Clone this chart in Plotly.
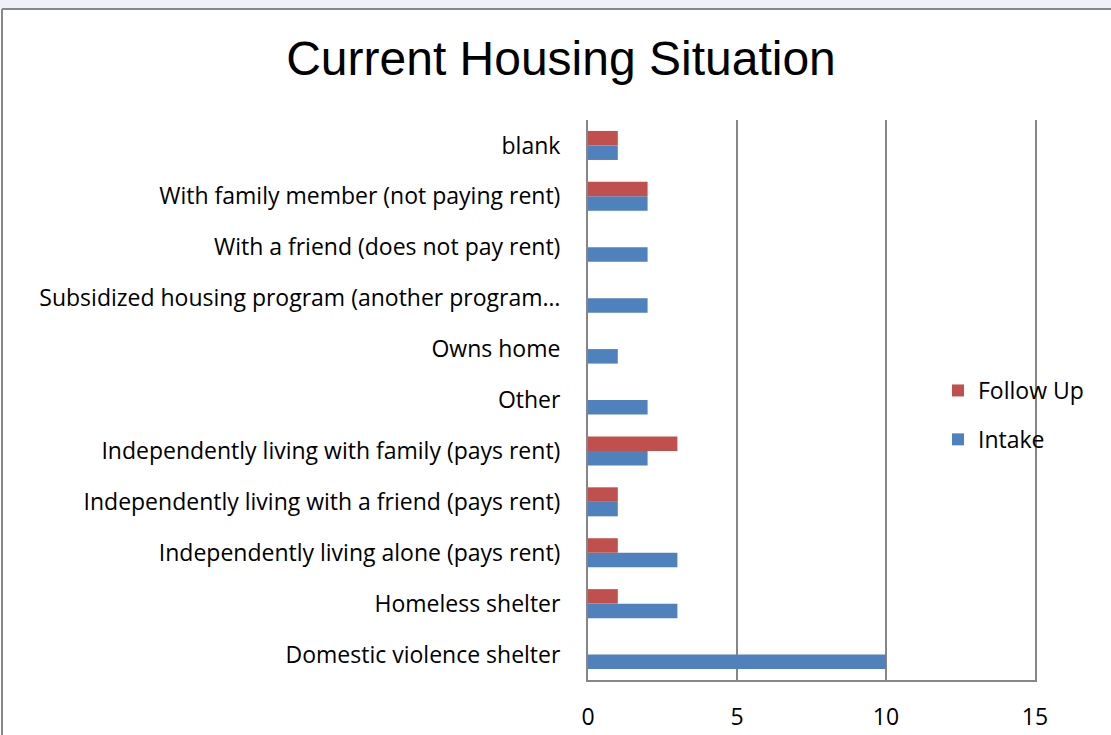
import plotly.graph_objects as go

# categories, bottom to top as drawn
categories = [
    "Domestic violence shelter",
    "Homeless shelter",
    "Independently living alone (pays rent)",
    "Independently living with a friend (pays rent)",
    "Independently living with family (pays rent)",
    "Other",
    "Owns home",
    "Subsidized housing program (another program…",
    "With a friend (does not pay rent)",
    "With family member (not paying rent)",
    "blank",
]
intake = [10, 3, 3, 1, 2, 2, 1, 2, 2, 2, 1]
follow_up = [0, 1, 1, 1, 3, 0, 0, 0, 0, 2, 1]
x_ticks = [0, 5, 10, 15]

# plot area in pixels (reference)
L, R, T, B = 588, 1035, 120, 680
W, H = 1111, 735
pw, ph = R - L, B - T


def px(x):
    return (x - L) / pw


def py(y):
    return (B - y) / ph


fig = go.Figure()
fig.add_trace(go.Bar(
    y=categories, x=intake, name="Intake", orientation="h",
    marker=dict(color="#4F81BD", line=dict(width=0)),
    legendgroup="a", legendrank=2,
))
fig.add_trace(go.Bar(
    y=categories, x=follow_up, name="Follow Up", orientation="h",
    marker=dict(color="#C0504D", line=dict(width=0)),
    legendgroup="b", legendrank=1,
))

grey = "#868686"
fig.update_layout(
    width=W, height=H,
    margin=dict(l=L, r=W - R, t=T, b=H - B, pad=0),
    paper_bgcolor="white",
    plot_bgcolor="rgba(0,0,0,0)",
    barmode="group",
    bargap=0.43,
    bargroupgap=0,
    font=dict(family="Open Sans", size=23, color="black"),
    title=dict(
        text="Current Housing Situation",
        font=dict(family="Liberation Sans", size=48, color="black"),
        x=561 / W, xanchor="center",
        y=1 - 58 / H, yanchor="middle",
    ),
    xaxis=dict(
        range=[0, 15], tickvals=x_ticks, showgrid=True,
        gridcolor=grey, gridwidth=2,
        showline=True, linecolor=grey, linewidth=2,
        zeroline=False, ticks="", ticklabelstandoff=15,
        tickfont=dict(size=23), automargin=False,
    ),
    yaxis=dict(
        categoryorder="array", categoryarray=categories,
        showline=True, linecolor=grey, linewidth=2, mirror=True,
        showgrid=False, ticks="", ticklabelstandoff=21,
        tickfont=dict(size=23), automargin=False,
    ),
    legend=dict(
        x=px(938), y=py(369), xanchor="left", yanchor="top",
        traceorder="grouped", tracegroupgap=16,
        bgcolor="rgba(0,0,0,0)", font=dict(size=23),
    ),
    showlegend=True,
    shapes=[
        # lavender strip above the chart frame
        dict(type="rect", xref="paper", yref="paper", layer="below",
             x0=px(0), x1=px(W), y0=py(9), y1=py(0),
             fillcolor="#EFF0FA", line=dict(width=0)),
        # frame: top and left edges
        dict(type="line", xref="paper", yref="paper", layer="below",
             x0=px(2), x1=px(W), y0=py(9), y1=py(9),
             line=dict(color="#888888", width=2)),
        dict(type="line", xref="paper", yref="paper", layer="below",
             x0=px(2), x1=px(2), y0=py(9), y1=py(H),
             line=dict(color="#888888", width=2)),
    ],
)

fig.write_html("out.html", config={"displayModeBar": False},
               post_script="document.body.style.margin='0';")
